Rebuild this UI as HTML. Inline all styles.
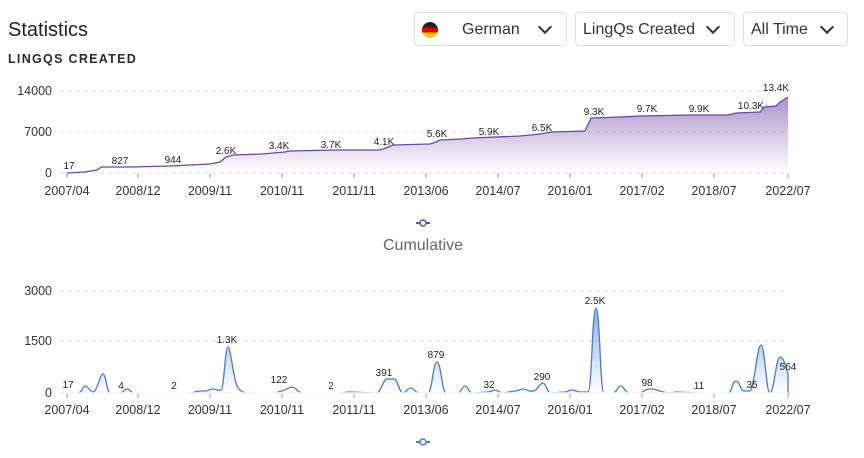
<!DOCTYPE html>
<html><head><meta charset="utf-8"><style>
body{margin:0;width:864px;height:458px;background:#fff;font-family:"Liberation Sans",sans-serif;overflow:hidden;position:relative}
.t{position:absolute;left:8px;top:19px;font-size:20px;color:#222}
.s{position:absolute;left:8px;top:52px;font-size:12.5px;font-weight:bold;letter-spacing:1.3px;color:#2a2a33}
.dd{position:absolute;top:12px;height:34px;border:1px solid #dcdcdc;border-radius:4px;box-sizing:border-box;font-size:16px;color:#333;line-height:33px}
.ch{position:absolute;top:9px;width:8px;height:8px;border-right:2px solid #333;border-bottom:2px solid #333;transform:rotate(45deg)}
svg{position:absolute;left:0;top:0}
</style></head><body>
<div class="t">Statistics</div>
<div class="s">LINGQS CREATED</div>
<div class="dd" style="left:414px;width:153px">
 <div style="position:absolute;left:7px;top:9px;width:16px;height:16px;border-radius:50%;overflow:hidden;background:linear-gradient(#222 0 33%,#d00 33% 66%,#fc0 66%)"></div>
 <span style="position:absolute;left:47px">German</span><div class="ch" style="left:125px"></div></div>
<div class="dd" style="left:575px;width:160px"><span style="position:absolute;left:7px">LingQs Created</span><div class="ch" style="left:132px"></div></div>
<div class="dd" style="left:743px;width:105px"><span style="position:absolute;left:7px">All Time</span><div class="ch" style="left:78px"></div></div>
<svg width="864" height="458" font-family="Liberation Sans, sans-serif">
<defs>
<linearGradient id="gp" x1="0" y1="0" x2="0" y2="1"><stop offset="0" stop-color="#9b80c0" stop-opacity=".85"/><stop offset="1" stop-color="#9b80c0" stop-opacity="0"/></linearGradient>
<linearGradient id="gb" x1="0" y1="0" x2="0" y2="1"><stop offset="0" stop-color="#5b8de0" stop-opacity=".7"/><stop offset="1" stop-color="#5b8de0" stop-opacity="0"/></linearGradient>
</defs>
<g stroke="#ddd" stroke-dasharray="4,4" stroke-width="1">
<line x1="60" y1="91" x2="788" y2="91"/><line x1="60" y1="132" x2="788" y2="132"/><line x1="60" y1="173" x2="788" y2="173"/>
<line x1="60" y1="291" x2="788" y2="291"/><line x1="60" y1="341" x2="788" y2="341"/><line x1="60" y1="393" x2="788" y2="393"/>
</g>
<g font-size="12.5" fill="#333" text-anchor="end"><text x="52" y="95">14000</text><text x="52" y="136">7000</text><text x="52" y="177">0</text>
<text x="52" y="295">3000</text><text x="52" y="345">1500</text><text x="52" y="397">0</text></g>
<g stroke="#999"><line x1="67" y1="173" x2="67" y2="178"/><line x1="138" y1="173" x2="138" y2="178"/><line x1="210" y1="173" x2="210" y2="178"/><line x1="282" y1="173" x2="282" y2="178"/><line x1="354" y1="173" x2="354" y2="178"/><line x1="426" y1="173" x2="426" y2="178"/><line x1="498" y1="173" x2="498" y2="178"/><line x1="570" y1="173" x2="570" y2="178"/><line x1="642" y1="173" x2="642" y2="178"/><line x1="714" y1="173" x2="714" y2="178"/><line x1="788" y1="173" x2="788" y2="178"/>
<line x1="67" y1="393" x2="67" y2="398"/><line x1="138" y1="393" x2="138" y2="398"/><line x1="210" y1="393" x2="210" y2="398"/><line x1="282" y1="393" x2="282" y2="398"/><line x1="354" y1="393" x2="354" y2="398"/><line x1="426" y1="393" x2="426" y2="398"/><line x1="498" y1="393" x2="498" y2="398"/><line x1="570" y1="393" x2="570" y2="398"/><line x1="642" y1="393" x2="642" y2="398"/><line x1="714" y1="393" x2="714" y2="398"/><line x1="788" y1="393" x2="788" y2="398"/></g>
<g font-size="12.5" fill="#333" text-anchor="middle">
<g transform="translate(0,195)"><text x="67">2007/04</text><text x="138">2008/12</text><text x="210">2009/11</text><text x="282">2010/11</text><text x="354">2011/11</text><text x="426">2013/06</text><text x="498">2014/07</text><text x="570">2016/01</text><text x="642">2017/02</text><text x="714">2018/07</text><text x="788">2022/07</text></g>
<g transform="translate(0,414)"><text x="67">2007/04</text><text x="138">2008/12</text><text x="210">2009/11</text><text x="282">2010/11</text><text x="354">2011/11</text><text x="426">2013/06</text><text x="498">2014/07</text><text x="570">2016/01</text><text x="642">2017/02</text><text x="714">2018/07</text><text x="788">2022/07</text></g>
</g>
<path d="M67,173 L85,172 L97,170 L101,167 L130,167 L170,166 L210,164 L220,162 L226,157 L233,155 L262,154 L285,152 L290,151 L335,150 L380,150 L386,148 L393,145 L430,144 L436,142 L440,140 L462,139 L472,138 L520,136 L540,134 L552,132 L585,131 L591,118 L620,117 L640,116 L690,115 L728,115 L736,113 L760,112 L764,107 L776,106 L780,102 L788,97 L788,173 Z" fill="url(#gp)"/>
<polyline points="67,173 85,172 97,170 101,167 130,167 170,166 210,164 220,162 226,157 233,155 262,154 285,152 290,151 335,150 380,150 386,148 393,145 430,144 436,142 440,140 462,139 472,138 520,136 540,134 552,132 585,131 591,118 620,117 640,116 690,115 728,115 736,113 760,112 764,107 776,106 780,102 788,97" fill="none" stroke="#6a4a9a" stroke-width="1.3"/>
<g font-size="10" fill="#222" text-anchor="middle"><text x="69" y="169">17</text><text x="120" y="164">827</text><text x="173" y="163">944</text><text x="226" y="154">2.6K</text><text x="279" y="149">3.4K</text><text x="331" y="148">3.7K</text><text x="384" y="145">4.1K</text><text x="437" y="137">5.6K</text><text x="489" y="135">5.9K</text><text x="542" y="131">6.5K</text><text x="594" y="115">9.3K</text><text x="647" y="112">9.7K</text><text x="699" y="112">9.9K</text><text x="751" y="109">10.3K</text><text x="776" y="91">13.4K</text></g>
<line x1="416" y1="223" x2="430" y2="223" stroke="#6a4a9a" stroke-width="2"/><circle cx="423" cy="223" r="3" fill="#fff" stroke="#6a4a9a" stroke-width="1.5"/>
<text x="423" y="250" font-size="16" fill="#666" text-anchor="middle">Cumulative</text>
<path d="M67,393 L78,393 C82,393 83,386 85,386 C88,386 90,392 93,392 C97,392 100,374 103,374 C106,374 107,393 110,393 L120,393 C123,393 124,389 127,389 C130,389 131,393 134,393 L190,393 C195,393 196,391 200,391 L206,391 C209,391 210,389 212,389 C216,389 218,391 221,390 C224,390 225,347 228,347 C231,347 233,380 238,388 C242,393 245,393 250,393 L275,393 C278,393 279,391 282,391 C285,391 286,388 292,387 C296,387 298,393 302,393 L320,393 L340,393 C344,393 345,392 350,392 L376,393 C381,393 383,379 387,379 L394,379 C398,379 399,393 403,393 C406,393 407,388 411,388 C414,388 415,393 420,393 L428,393 C432,393 433,362 437,362 C441,362 442,393 446,393 L458,393 C461,393 462,386 465,386 C468,386 469,393 472,393 L488,392 C491,392 492,390 495,390 C498,390 499,393 503,393 L515,391 C519,391 520,389 523,389 C526,389 528,392 533,391 C538,391 539,383 543,383 C546,383 547,393 551,393 L565,392 C568,392 569,390 572,390 C575,390 577,392 580,392 L588,392 C592,392 592,308 596,308 C600,308 600,393 604,393 L613,393 C617,393 617,386 621,386 C624,386 625,393 629,393 L640,393 C643,393 644,389 650,389 C656,389 656,390 660,391 C663,392 665,393 670,393 L676,392 L700,393 L728,393 C732,393 732,381 736,381 C740,381 740,391 744,391 L750,391 C754,391 757,345 761,345 C765,345 766,393 770,393 C774,393 776,357 780,357 C784,357 786,368 788,374 L788,393 Z" fill="url(#gb)" stroke="#4a7bd0" stroke-width="1.3"/>
<line x1="67" y1="393" x2="788" y2="393" stroke="#fff" stroke-width="1.5"/>
<g font-size="10" fill="#222" text-anchor="middle"><text x="68" y="388">17</text><text x="121" y="389">4</text><text x="174" y="389">2</text><text x="227" y="343">1.3K</text><text x="279" y="383">122</text><text x="331" y="389">2</text><text x="384" y="376">391</text><text x="436" y="358">879</text><text x="489" y="388">32</text><text x="542" y="380">290</text><text x="595" y="304">2.5K</text><text x="647" y="386">98</text><text x="699" y="389">11</text><text x="752" y="388">35</text><text x="788" y="370">564</text></g>
<line x1="416" y1="442" x2="430" y2="442" stroke="#4a7bd0" stroke-width="2"/><circle cx="423" cy="442" r="3" fill="#fff" stroke="#4a7bd0" stroke-width="1.5"/>
</svg>
</body></html>
